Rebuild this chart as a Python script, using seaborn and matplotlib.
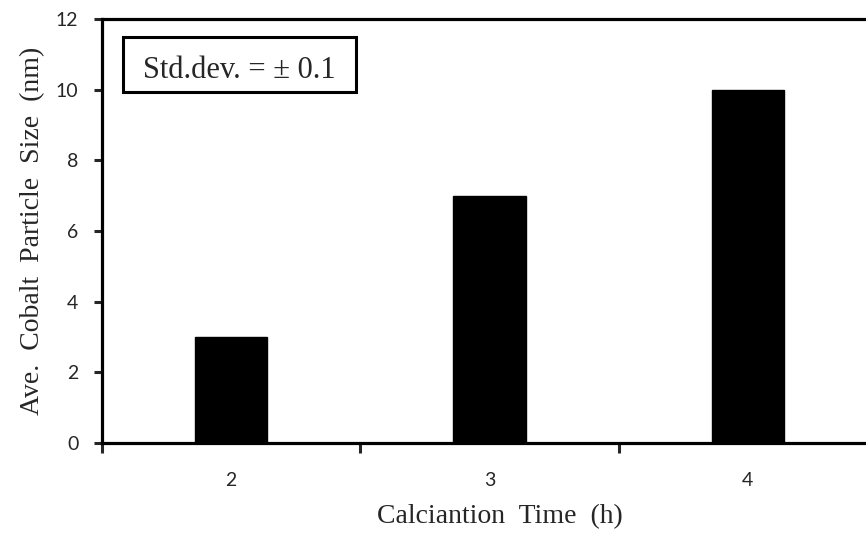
import numpy as np
import pandas as pd
import seaborn as sns
from matplotlib import pyplot as plt
from matplotlib.patches import Rectangle
from matplotlib.ticker import FixedLocator

times = ["2", "3", "4"]
sizes = [3, 7, 10]

sns.set_style("white")
plt.rcParams['font.family'] = ['Lato', 'DejaVu Sans']

fig = plt.figure(figsize=(8.66, 5.33), dpi=100)
ax = fig.add_axes([102 / 866, 90 / 533, 775 / 866, 424 / 533])

data = pd.DataFrame({'time': times, 'size': sizes})
sns.barplot(data=data, x='time', y='size', color='black', width=0.28,
            saturation=1, edgecolor='black', ax=ax)

ax.set_xlim(-0.5, 2.5)
ax.set_ylim(0, 12)
ax.set_yticks(np.arange(0, 13, 2))

# ticks sit on the category boundaries
ax.xaxis.set_minor_locator(FixedLocator([-0.5, 0.5, 1.5, 2.5]))
ax.tick_params(axis='x', which='major', length=0, pad=21, labelsize=14)
ax.tick_params(axis='x', which='minor', length=7, width=2.2, direction='out', bottom=True)
ax.tick_params(axis='y', length=6, width=2.2, direction='out', left=True, labelsize=14, pad=11)

for side in ['left', 'bottom', 'top']:
    ax.spines[side].set_linewidth(2.3)
    ax.spines[side].set_color('black')
ax.spines['right'].set_visible(False)

ax.set_xlabel('Calciantion  Time  (h)', family='Liberation Serif', fontsize=20)
ax.xaxis.set_label_coords(0.514, -0.143)
ax.set_ylabel('Ave.  Cobalt  Particle  Size  (nm)', family='Liberation Serif', fontsize=20, labelpad=8)

# std dev box
ax.add_patch(Rectangle((0.027, 0.8267), 0.301, 0.131, transform=ax.transAxes,
                       fc='white', ec='black', lw=2.2, zorder=5))
ax.text(0.0529, 0.861, 'Std.dev. = \u00b1 0.1', transform=ax.transAxes,
        family='Liberation Serif', fontsize=22, va='baseline', ha='left', zorder=6)

fig.savefig('out.png', dpi=100)
